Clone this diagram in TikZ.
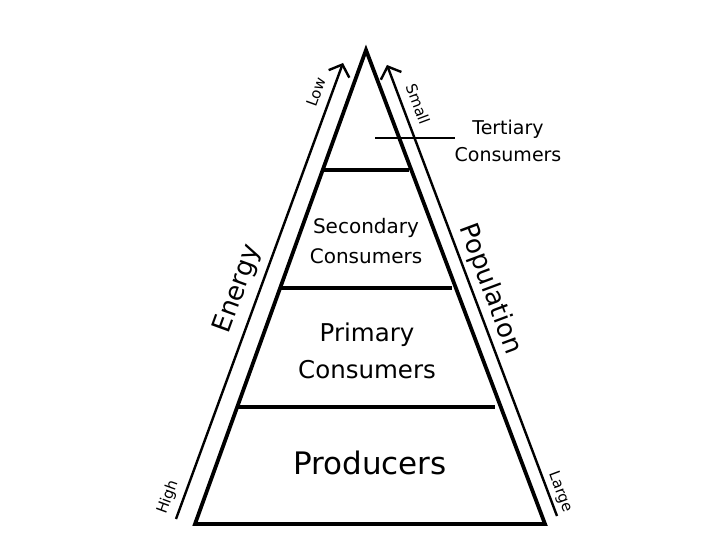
\documentclass[tikz,border=0pt]{standalone}
\usepackage{fontspec}
\setmainfont{DejaVu Sans}
\usetikzlibrary{arrows.meta}
\begin{document}
\begin{tikzpicture}[x=1pt,y=-1pt,
  thick edge/.style={line width=3.8pt, line join=miter},
  level/.style={line width=3.4pt},
  side arrow/.style={line width=2.4pt, -{Straight Barb[length=10pt,width=22pt,line width=2.4pt]}},
  lbl/.style={inner sep=0pt, align=center}]
\useasboundingbox (0,0) rectangle (720,540);
% pyramid
\coordinate (apex) at (366,50);
\coordinate (bl) at (195,524);
\coordinate (br) at (545,524);
\draw[thick edge] (bl) -- (apex) -- (br) -- cycle;
% levels
\coordinate (l1a) at (323,170); \coordinate (l1b) at (409,170);
\coordinate (l2a) at (280,288); \coordinate (l2b) at (452,288);
\coordinate (l3a) at (237,407); \coordinate (l3b) at (495,407);
\draw[level] (l1a) -- (l1b);
\draw[level] (l2a) -- (l2b);
\draw[level] (l3a) -- (l3b);
% pointer
\coordinate (pa) at (375,138); \coordinate (pb) at (455,138);
\draw[line width=2.4pt] (pa) -- (pb);
% side arrows
\coordinate (ea) at (176,519); \coordinate (eb) at (343,63);
\coordinate (pa2) at (557,516); \coordinate (pb2) at (387,65);
\draw[side arrow] (ea) -- (eb);
\draw[side arrow] (pa2) -- (pb2);
% texts
\node[lbl, font=\fontsize{19}{27}\selectfont] (tert) at (508,141) {Tertiary\\Consumers};
\node[lbl, font=\fontsize{20}{30}\selectfont] (sec) at (366,241) {Secondary\\Consumers};
\node[lbl, font=\fontsize{24.5}{37}\selectfont] (pri) at (367,351) {Primary\\Consumers};
\node[lbl, font=\fontsize{31}{34}\selectfont] (prod) at (370,463) {Producers};
\node[lbl, font=\fontsize{26}{30}\selectfont, rotate=70] (energy) at (238,289) {Energy};
\node[lbl, font=\fontsize{26}{30}\selectfont, rotate=-69.5] (pop) at (490,289) {Population};
\node[lbl, font=\fontsize{15}{18}\selectfont, rotate=70] (low) at (316,92) {Low};
\node[lbl, font=\fontsize{15}{18}\selectfont, rotate=-69.5] (small) at (418,104) {Small};
\node[lbl, font=\fontsize{15}{18}\selectfont, rotate=70] (high) at (168,497) {High};
\node[lbl, font=\fontsize{15}{18}\selectfont, rotate=-69.5] (large) at (560,492) {Large};
\end{tikzpicture}
\end{document}
